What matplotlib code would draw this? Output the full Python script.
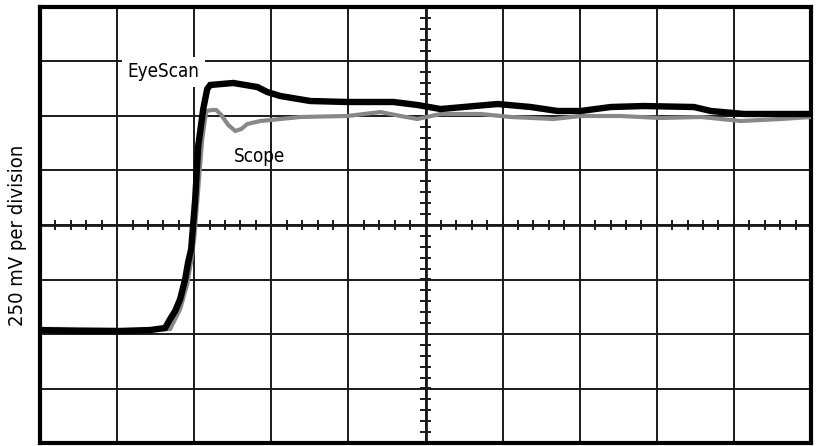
import matplotlib
matplotlib.use("Agg")
import matplotlib.pyplot as plt

# ---- data (in divisions: x 0..10, y -4..4) ----
eyescan_x = [0.0, 0.519, 1.039, 1.429, 1.623, 1.688, 1.753, 1.818, 1.883, 1.922, 1.961,
             2.013, 2.052, 2.117, 2.169, 2.208, 2.506, 2.818, 2.948, 3.117, 3.506, 3.987,
             4.584, 4.896, 5.195, 5.494, 5.935, 6.364, 6.714, 7.013, 7.403, 7.831, 8.481,
             8.701, 9.130, 9.571, 10.0]
eyescan_y = [-1.927, -1.945, -1.945, -1.927, -1.890, -1.725, -1.578, -1.358, -0.991, -0.679,
             -0.440, 0.477, 1.450, 2.128, 2.495, 2.569, 2.606, 2.532, 2.440, 2.367, 2.275,
             2.257, 2.257, 2.202, 2.128, 2.165, 2.220, 2.165, 2.092, 2.092, 2.165, 2.183,
             2.165, 2.092, 2.037, 2.037, 2.037]

scope_x = [0.0, 0.519, 1.039, 1.429, 1.688, 1.818, 1.909, 1.961, 2.000, 2.052, 2.104, 2.156,
           2.234, 2.286, 2.351, 2.442, 2.532, 2.610, 2.688, 2.857, 3.377, 3.987, 4.416,
           4.675, 4.896, 5.195, 5.714, 6.104, 6.662, 7.013, 7.532, 8.052, 8.571, 9.091,
           9.610, 10.0]
scope_y = [-1.908, -1.908, -1.927, -1.927, -1.908, -1.541, -1.083, -0.661, -0.257, 0.661,
           1.578, 2.092, 2.110, 2.110, 2.018, 1.835, 1.725, 1.761, 1.853, 1.908, 1.982,
           2.000, 2.073, 2.000, 1.945, 2.037, 2.037, 1.982, 1.945, 2.000, 2.000, 1.963,
           1.982, 1.908, 1.945, 1.982]

n_xdiv = 10
n_ydiv = 8
ylabel_text = "250 mV per division"
label_eyescan = "EyeScan"
label_scope = "Scope"

# ---- font ----
plt.rcParams["font.family"] = ["DejaVu Sans"]
plt.rcParams["font.stretch"] = "condensed"

fig = plt.figure(figsize=(8.17, 4.46), dpi=100)
ax = fig.add_axes([40 / 817, 1 - 443 / 446, 771 / 817, 436 / 446])
ax.set_xlim(0, n_xdiv)
ax.set_ylim(-n_ydiv / 2, n_ydiv / 2)

# grid
for i in range(1, n_xdiv):
    ax.axvline(i, color="#1a1a1a", lw=1.4, zorder=1)
for j in range(1, n_ydiv):
    ax.axhline(j - n_ydiv / 2, color="#1a1a1a", lw=1.4, zorder=1)

# center axes with minor ticks
cx = n_xdiv / 2
ax.axvline(cx, color="#1a1a1a", lw=2.0, zorder=1)
ax.axhline(0, color="#1a1a1a", lw=2.0, zorder=1)
tx = 4 / 77
ty = 4 / 54.5
k = -n_ydiv / 2
while k <= n_ydiv / 2 + 1e-9:
    ax.plot([cx - tx, cx + tx], [k, k], color="#1a1a1a", lw=1.4, zorder=1)
    k += 0.2
k = 0.0
while k <= n_xdiv + 1e-9:
    ax.plot([k, k], [-ty, ty], color="#1a1a1a", lw=1.4, zorder=1)
    k += 0.2

# traces
ax.plot(scope_x, scope_y, color="#888888", lw=3.0, zorder=3, solid_joinstyle="miter")
ax.plot(eyescan_x, eyescan_y, color="black", lw=4.6, zorder=4, solid_joinstyle="miter")

# labels
ax.text((163 - 40) / 77, (226 - 73) / 54.5, label_eyescan, fontsize=13.5, ha="center",
        va="center", zorder=5, fontstretch="condensed",
        bbox=dict(facecolor="white", edgecolor="none", pad=4))
ax.text((259 - 40) / 77, (226 - 157) / 54.5, label_scope, fontsize=13.5, ha="center",
        va="center", zorder=5, fontstretch="condensed")

ax.set_xticks([])
ax.set_yticks([])
for s in ax.spines.values():
    s.set_linewidth(3.0)
    s.set_color("black")

fig.text(18 / 817, 1 - 235 / 446, ylabel_text, rotation=90, fontsize=14.5,
         ha="center", va="center", fontstretch="condensed")

fig.savefig("out.png", dpi=100)
